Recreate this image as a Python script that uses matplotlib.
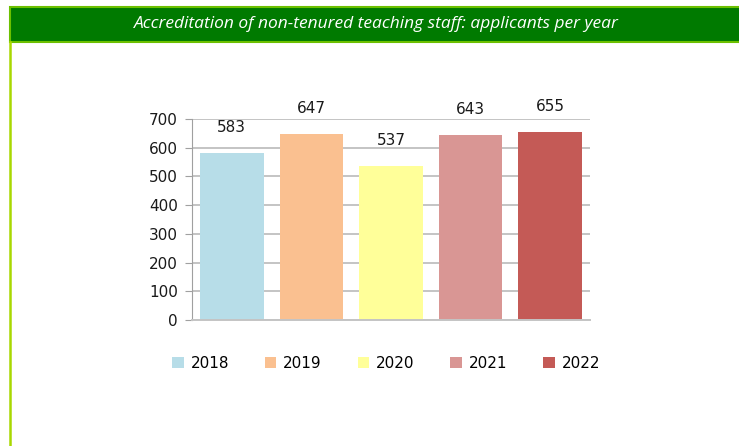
import numpy as np
import matplotlib.pyplot as plt
from matplotlib.patches import Rectangle
from matplotlib.lines import Line2D

# data
years = ['2018', '2019', '2020', '2021', '2022']
applicants = [583, 647, 537, 643, 655]
bar_colors = ['#B7DDE8', '#FAC090', '#FFFF99', '#D99694', '#C45A56']
yticks = [0, 100, 200, 300, 400, 500, 600, 700]
title = 'Accreditation of non-tenured teaching staff: applicants per year'

W, H = 739, 446
fig = plt.figure(figsize=(W / 100, H / 100), dpi=100)
fig.patch.set_facecolor('white')

# green header band
fig.patches.append(Rectangle((9.5 / W, 1 - 42 / H), 1, 35.5 / H,
                             transform=fig.transFigure, facecolor='#007A00',
                             edgecolor='#6CC000', linewidth=1.5))
# left border line
fig.lines.append(Line2D([10.3 / W, 10.3 / W], [0, 1 - 42 / H],
                        transform=fig.transFigure, color='#A8D800', linewidth=1.8))
fig.text(376 / W, 1 - 24 / H, title, color='white', fontsize=12.5,
         style='italic', family='Open Sans', ha='center', va='center')

ax = fig.add_axes([192 / W, (H - 320) / H, 398 / W, (320 - 119) / H])
x = np.arange(len(years))
bars = ax.bar(x, applicants, width=0.8, color=bar_colors, label=years, zorder=2)

ax.set_xlim(-0.5, len(years) - 0.5)
ax.set_ylim(0, 700)
ax.set_yticks(yticks)
ax.set_xticks([])
ax.yaxis.grid(True, color='#C4C4C4', linewidth=1.4, zorder=0)
for s in ['top', 'right']:
    ax.spines[s].set_visible(False)
ax.spines['left'].set_color('#A0A0A0')
ax.spines['bottom'].set_color('#C4C4C4')
ax.spines['bottom'].set_linewidth(1.4)
ax.tick_params(axis='y', length=5, color='#A0A0A0', labelsize=11,
               labelcolor='#1A1A1A', pad=5)

for b, v in zip(bars, applicants):
    ax.annotate(str(v), (b.get_x() + b.get_width() / 2, v), xytext=(0, 13),
                textcoords='offset points', ha='center', va='bottom',
                fontsize=11, color='#1A1A1A')

fig.legend(handles=bars, labels=years, loc='center', ncol=5,
           bbox_to_anchor=(386 / W, 1 - 363 / H), frameon=False, fontsize=11,
           handlelength=0.75, handleheight=0.75, handletextpad=0.45,
           columnspacing=2.35)

fig.savefig('out.png', dpi=100)
